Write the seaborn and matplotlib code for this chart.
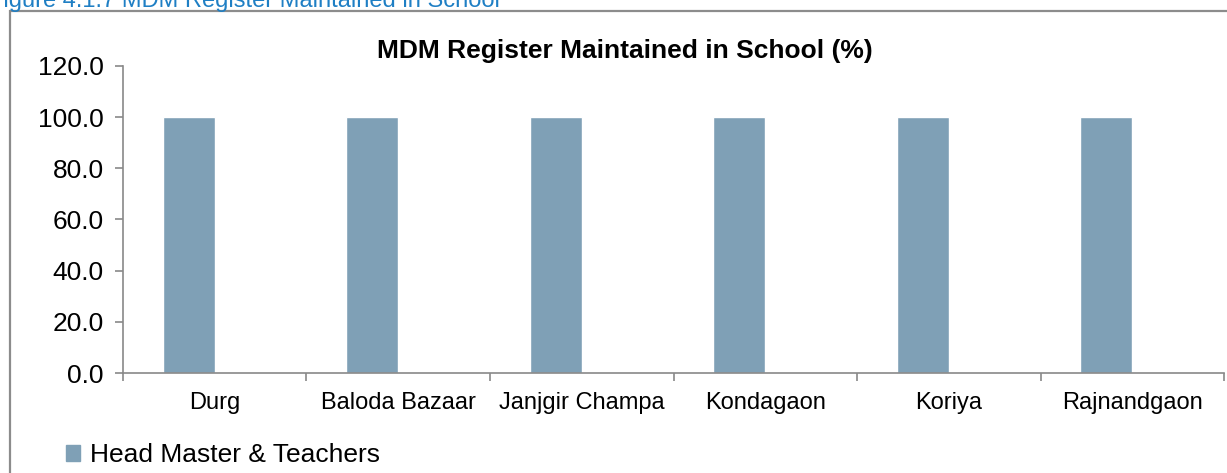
import matplotlib
matplotlib.use("Agg")
import matplotlib.pyplot as plt
import matplotlib.patches as mpatches
from matplotlib.ticker import FixedLocator, FormatStrFormatter
import seaborn as sns
import pandas as pd

districts = ["Durg", "Baloda Bazaar", "Janjgir Champa", "Kondagaon", "Koriya", "Rajnandgaon"]
head_master_teachers = [100.0, 100.0, 100.0, 100.0, 100.0, 100.0]
y_ticks = [0, 20, 40, 60, 80, 100, 120]

series_name = "Head Master & Teachers"
bar_color = "#7FA0B6"

# Excel clustered chart with an empty second series, bar sits left of centre
df = pd.DataFrame({
    "district": districts * 2,
    "value": head_master_teachers + [float("nan")] * len(districts),
    "series": [series_name] * len(districts) + ["blank"] * len(districts),
})

sns.set_style("white")
plt.rcParams["font.family"] = ["Liberation Sans", "DejaVu Sans"]
plt.rcParams["text.color"] = "black"

fig = plt.figure(figsize=(12.27, 4.73), dpi=100)
ax = fig.add_axes([0.1002, 0.2114, 0.8974, 0.6491])

sns.barplot(data=df, x="district", y="value", hue="series",
            hue_order=[series_name, "blank"], palette=[bar_color, "white"],
            width=0.567, dodge=True, ax=ax, legend=False, saturation=1)

ax.set_ylim(0, 120)
ax.set_xlim(-0.5, len(districts) - 0.5)
ax.yaxis.set_major_locator(FixedLocator(y_ticks))
ax.yaxis.set_major_formatter(FormatStrFormatter("%.1f"))
ax.set_xlabel("")
ax.set_ylabel("")

for s in ["top", "right"]:
    ax.spines[s].set_visible(False)
for s in ["left", "bottom"]:
    ax.spines[s].set_color("#898989")
    ax.spines[s].set_linewidth(1.2)

ax.tick_params(axis="y", direction="out", length=6, width=1.2, color="#898989",
               labelsize=19, pad=8, left=True, labelcolor="black")
ax.tick_params(axis="x", which="major", length=0, labelsize=17, pad=14, labelcolor="black")
ax.xaxis.set_minor_locator(FixedLocator([i - 0.5 for i in range(len(districts) + 1)]))
ax.tick_params(axis="x", which="minor", direction="out", length=6, width=1.2,
               color="#898989", bottom=True)

fig.text(0.509, 0.893, "MDM Register Maintained in School (%)", ha="center", va="center",
         fontsize=19, fontweight="bold", color="black")

handle = mpatches.Patch(color=bar_color, label=series_name)
fig.legend(handles=[handle], loc="center left", bbox_to_anchor=(0.045, 0.038),
           frameon=False, fontsize=19, handlelength=0.55, handleheight=0.55,
           handletextpad=0.35, borderaxespad=0, labelcolor="black")

# chart border from the report page, clipped at right and bottom
fig.patches.append(mpatches.Rectangle((10 / 1227, -0.05), 1.2, 1 - 11 / 473 + 0.05,
                                      transform=fig.transFigure, fill=False,
                                      edgecolor="#8c8c8c", linewidth=1.6))
fig.text(-0.009, 0.998, "Figure 4.1.7 MDM Register Maintained in School", ha="left",
         va="center", fontsize=17, color="#1F7FC4")

fig.savefig("out.png", dpi=100)
